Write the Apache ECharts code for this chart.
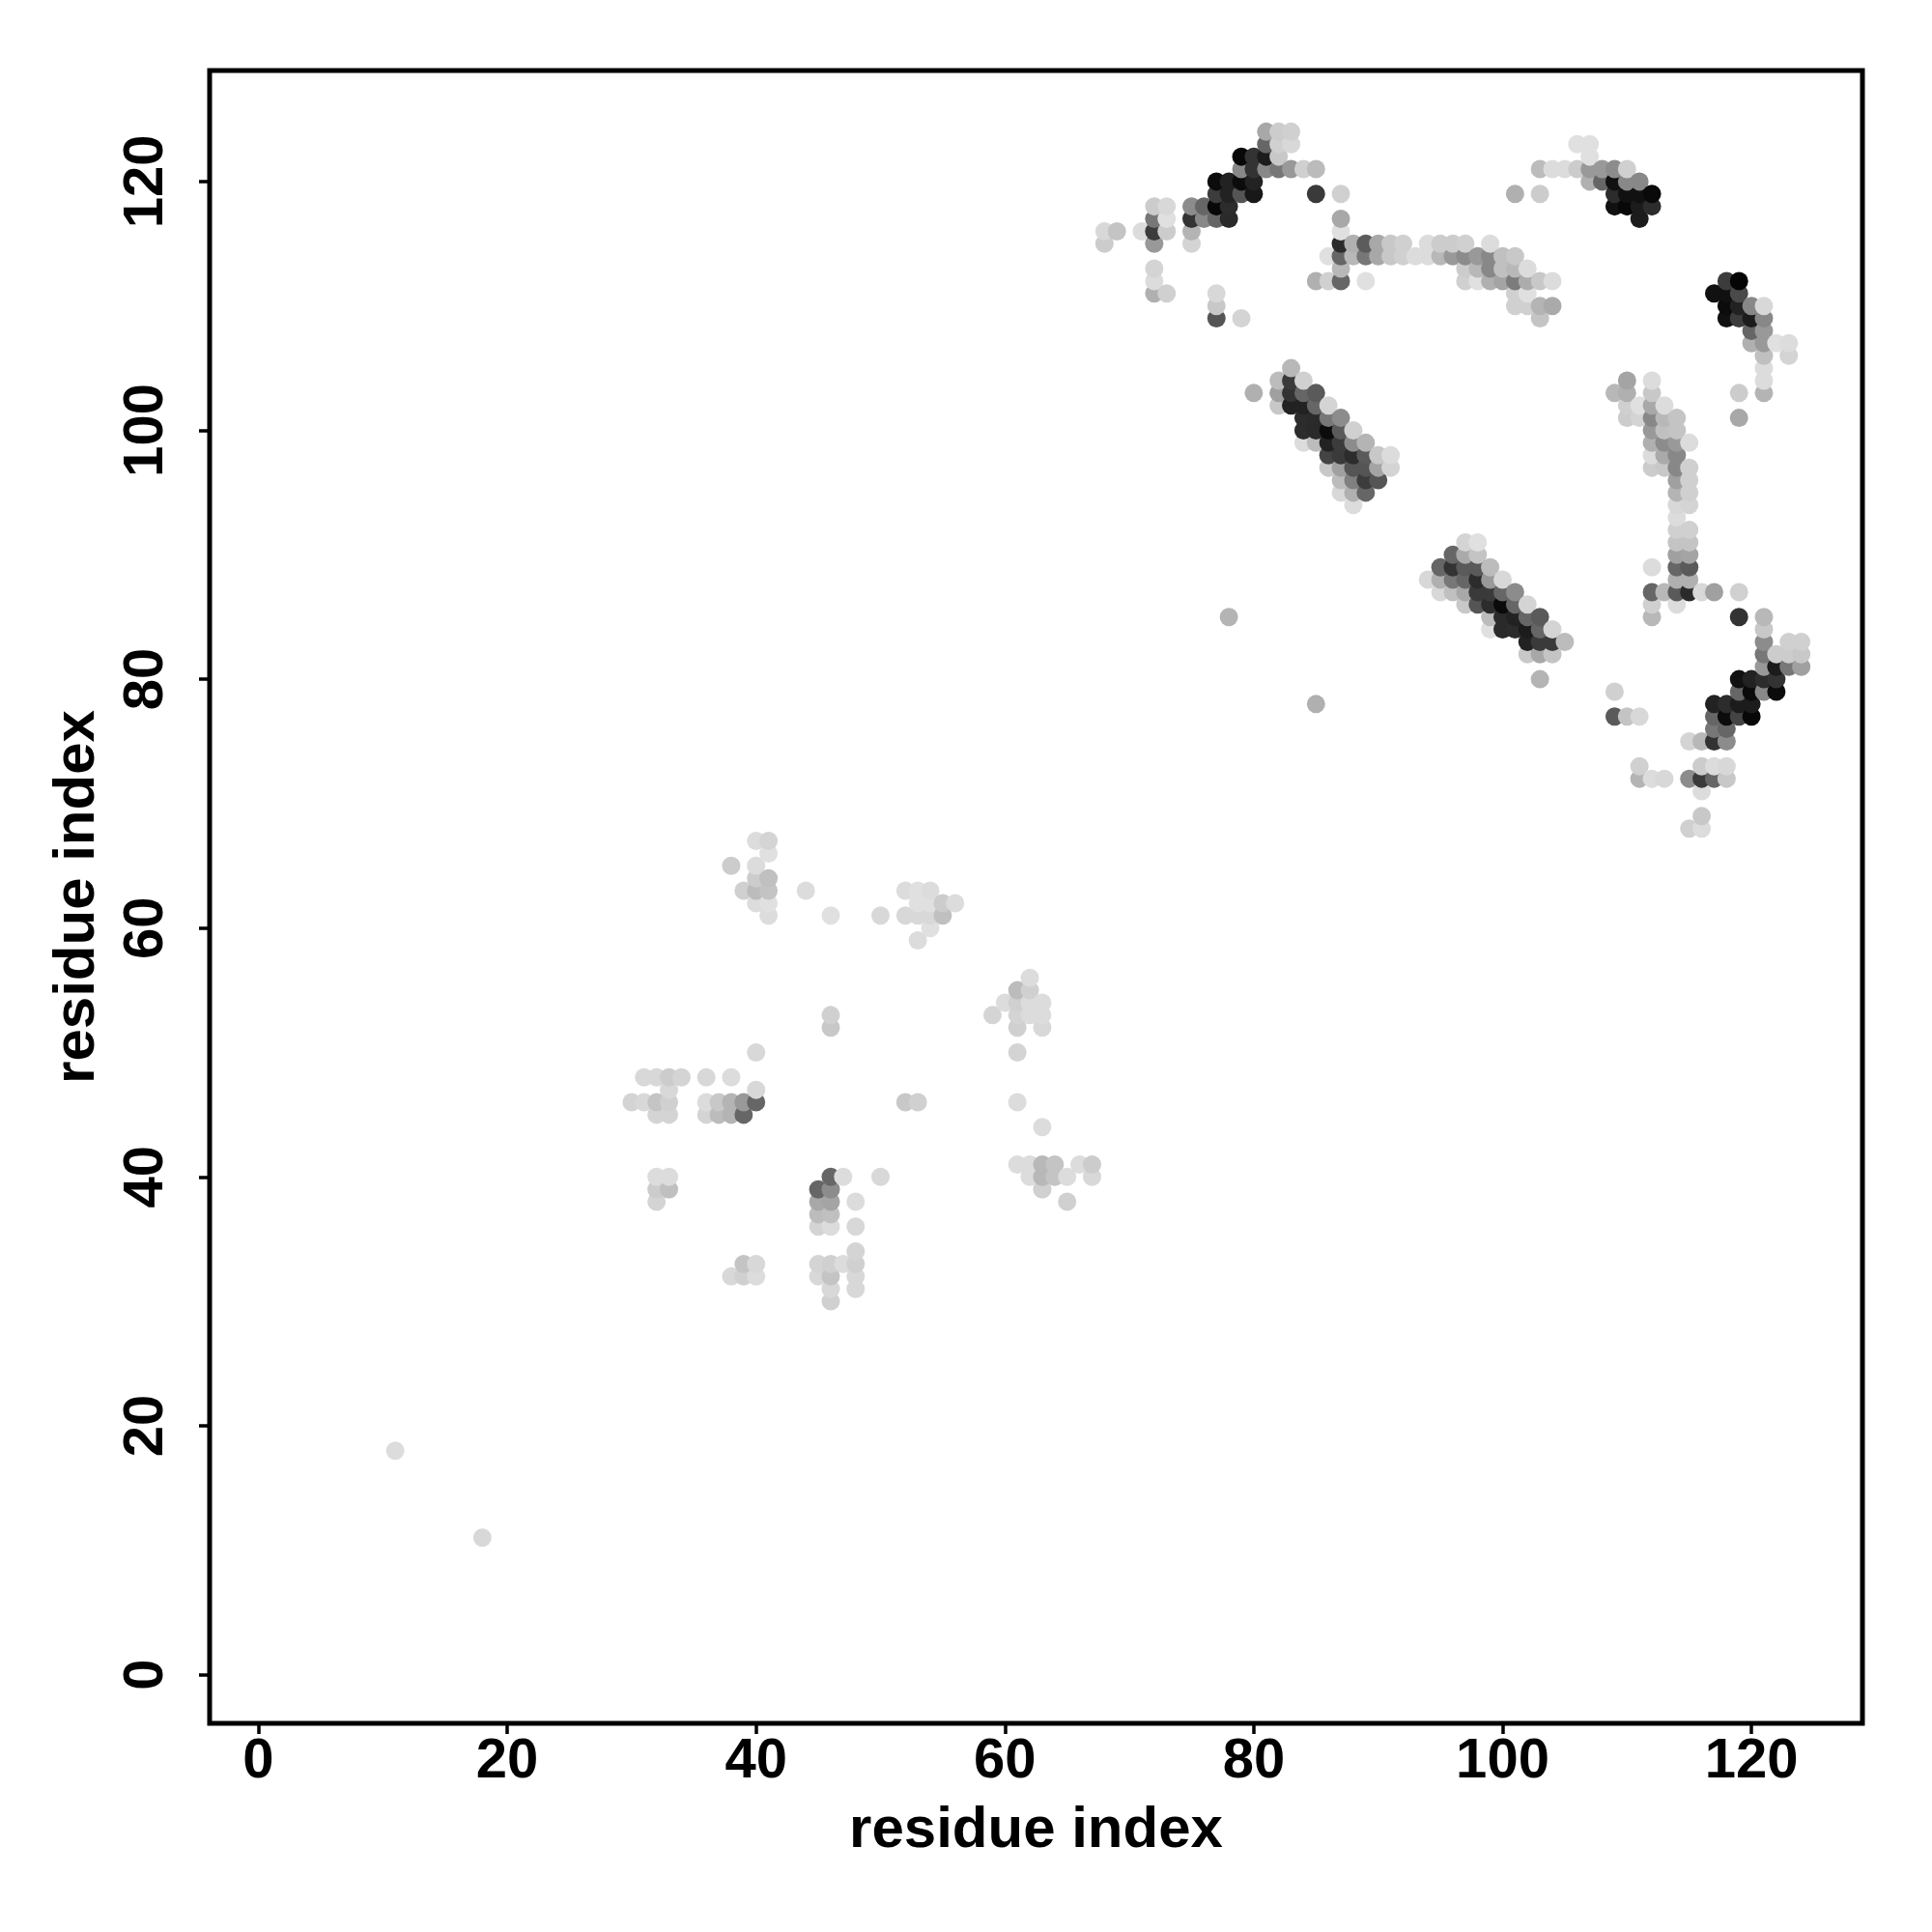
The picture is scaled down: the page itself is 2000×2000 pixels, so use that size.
<!DOCTYPE html>
<html><head><meta charset="utf-8">
<style>html,body{margin:0;padding:0;background:#fff}#c{width:2000px;height:2000px}</style>
<script src="https://cdn.jsdelivr.net/npm/echarts@6/dist/echarts.min.js"></script>
</head><body><div id="c"></div>
<script>
// each entry: [residue x, residue y, grey level of the dot]
const sparse = [[11,18,0xdc],[18,11,0xd8],[78,85,0xb4],[85,78,0xb0],[52,46,0xc8],[53,46,0xd0],[46,53,0xd0],[46,52,0xc8],[109,79,0xd0]];
const topLeft = [
[68,116,0xd8],[68,115,0xcc],[69,116,0xc4],[71,116,0xdc],
[72,118,0xcc],[72,117,0x77],[72,116,0x3c],[72,115,0x99],[72,113,0xd4],[72,112,0xdc],[72,111,0xb0],
[73,118,0xd8],[73,117,0xe0],[73,116,0xcc],[73,111,0xd0],
[75,118,0x8c],[75,117,0x33],[75,116,0xb4],[75,115,0xd4],[76,118,0x66],[76,117,0x88],
[77,120,0x0c],[77,119,0x3c],[77,118,0x08],[77,117,0x66],[77,111,0xd8],[77,110,0xc8],[77,109,0x55],
[78,120,0x22],[78,119,0x22],[78,118,0x2c],[78,117,0x2a],
[79,122,0x08],[79,121,0x88],[79,120,0x0c],[79,119,0x55],[79,109,0xd4],
[80,122,0x33],[80,121,0x33],[80,120,0x22],[80,119,0x18],
[81,124,0xa8],[81,123,0x66],[81,122,0x1c],[81,121,0x88],
[82,124,0xcc],[82,123,0xd0],[82,122,0xc8],[82,121,0x77],
[83,124,0xd0],[83,123,0xd8],[83,121,0x99],[84,121,0xd0],[85,121,0xbb],[85,119,0x3a],[85,112,0xb0],[86,112,0xd0]
];
const topMiddle = [
[87,119,0xd0],[87,117,0xa8],[87,116,0xe0],[87,115,0x2c],[87,114,0x66],[87,113,0xb8],[87,112,0x66],[86,114,0xe0],
[88,115,0xb0],[88,114,0xb8],[89,115,0x5c],[89,114,0x77],[89,112,0xe0],[90,115,0xa8],[90,114,0xa8],
[91,115,0xc8],[91,114,0xc8],[92,115,0xd0],[92,114,0xd0],[93,114,0xdc],[94,115,0xdc],[94,114,0xdc],
[95,115,0xcc],[95,114,0xb8],[96,115,0xcc],[96,114,0x99],[97,115,0xd0],[97,114,0x8c],[97,113,0xcc],[97,112,0xd0],
[98,114,0x99],[98,113,0xb8],[98,112,0xe0],[99,115,0xdc],[99,114,0x88],[99,113,0x88],[99,112,0xb0],
[100,114,0xc0],[100,113,0xc0],[100,112,0xa4],[101,114,0xc8],[101,113,0xb8],[101,112,0x7c],[101,111,0xd0],[101,110,0xd0],[101,119,0xb0],
[102,113,0xdc],[102,112,0xac],[102,111,0xe0],[102,110,0xd0],[103,119,0xcc],[103,112,0xc8],[103,110,0xb4],[103,109,0xc4],
[104,112,0xdc],[104,110,0xaa]
];
const topRight = [
[103,121,0xbc],[104,121,0xdc],[105,121,0xdc],[106,123,0xe0],[106,121,0xcc],[107,123,0xe0],[107,122,0xe0],[107,121,0x99],[107,120,0xb0],
[108,121,0x99],[108,120,0x66],[109,121,0x8c],[109,120,0x11],[109,119,0x2c],[109,118,0x11],
[110,121,0xd0],[110,120,0x88],[110,119,0x11],[110,118,0x08],[111,120,0x88],[111,119,0x11],[111,118,0x1c],[111,117,0x1c],[112,119,0x0a],[112,118,0x2c]
];
const diagonalUpper = [
[83,105,0xb8],[82,104,0xbc],[83,104,0x3a],[84,104,0xd0],[80,103,0xb0],[82,103,0xa0],[83,103,0x33],[84,103,0x66],[85,103,0x5a],
[82,102,0xc8],[83,102,0x22],[84,102,0x22],[85,102,0x66],[86,102,0xd4],[84,101,0x2c],[85,101,0x2a],[86,101,0x77],[87,101,0x8c],
[84,100,0x2c],[85,100,0x2a],[86,100,0x0c],[87,100,0x5a],[88,100,0xd0],[84,99,0xdc],[85,99,0xbc],[86,99,0x22],[87,99,0x3c],[88,99,0x8c],[89,99,0xb4],
[86,98,0x44],[87,98,0x3a],[88,98,0x2c],[89,98,0x5a],[90,98,0xc8],[91,98,0xdc],[86,97,0xc8],[87,97,0xa0],[88,97,0x55],[89,97,0x55],[90,97,0xa4],[91,97,0xd4],
[87,96,0xbc],[88,96,0x80],[89,96,0x3c],[90,96,0x55],[87,95,0xd8],[88,95,0xb0],[89,95,0x66],[88,94,0xdc]
];
const diagonalLower = [
[97,91,0xd4],[98,91,0xe0],[96,90,0x66],[97,90,0xaa],[98,90,0xc4],[95,89,0x66],[96,89,0x33],[97,89,0x5a],[98,89,0x5a],[99,89,0xbc],
[94,88,0xd8],[95,88,0xb0],[96,88,0x77],[97,88,0x66],[98,88,0x2c],[99,88,0x99],[100,88,0xd8],
[95,87,0xd8],[96,87,0xc0],[97,87,0xa8],[98,87,0x3a],[99,87,0x3a],[100,87,0x66],[101,87,0x8c],
[97,86,0xc8],[98,86,0x55],[99,86,0x2c],[100,86,0x0a],[101,86,0x66],[102,86,0xd4],
[99,85,0xbc],[100,85,0x2a],[101,85,0x22],[102,85,0x66],[103,85,0x5a],[99,84,0xe0],[100,84,0x2a],[101,84,0x2c],[102,84,0x1c],[103,84,0x66],[104,84,0xd4],
[102,83,0x22],[103,83,0x3a],[104,83,0x3a],[105,83,0xbc],[102,82,0xc8],[103,82,0xa8],[104,82,0xc4],[103,80,0xb4]
];
const rightUpper = [
[118,112,0x3c],[119,112,0x05],[117,111,0x11],[118,111,0x11],[119,111,0x4a],[118,110,0x0c],[119,110,0x22],[120,110,0x88],[121,110,0xd8],
[118,109,0x11],[119,109,0x3c],[120,109,0x1c],[121,109,0x88],[120,108,0x66],[121,108,0x99],[120,107,0xb0],[121,107,0x99],[122,107,0xe0],[123,107,0xdc],
[121,106,0xc0],[123,106,0xd4],[121,105,0xdc],[121,104,0xdc],[119,103,0xcc],[121,103,0xb4],[119,101,0xa8]
];
const rightColumn = [
[110,104,0xa4],[112,104,0xdc],[109,103,0xb8],[110,103,0xb0],[112,103,0xc8],[110,102,0xd0],[111,102,0xe0],[112,102,0xa8],[113,102,0xdc],
[110,101,0xcc],[111,101,0xd4],[112,101,0x88],[113,101,0xb8],[114,101,0xc4],[112,100,0x99],[113,100,0xc0],[114,100,0xc4],
[112,99,0xb0],[113,99,0x8c],[114,99,0x99],[115,99,0xdc],[112,98,0xdc],[113,98,0xaa],[114,98,0x88],[112,97,0xcc],[113,97,0xc8],[114,97,0x88],[115,97,0xd0],
[114,96,0xa0],[115,96,0xd0],[114,95,0xb4],[115,95,0xd0],[114,94,0xd8],[115,94,0xd4],[114,93,0xdc],[114,92,0xd0],[115,92,0xd0],[114,91,0xc4],[115,91,0xc4],
[114,90,0xa0],[115,90,0xa4],[112,89,0xdc],[114,89,0x66],[115,89,0x5a],[114,88,0xb0],[115,88,0xb0],
[112,87,0x66],[113,87,0xb8],[114,87,0x5a],[115,87,0x2a],[116,87,0xd8],[117,87,0xa0],[119,87,0xd0],[112,86,0xd0],[114,86,0xdc],[112,85,0xb8]
];
const rightLower = [
[119,85,0x33],[121,85,0xb8],[121,84,0xc8],[121,83,0x8c],[123,83,0xd0],[124,83,0xd0],[121,82,0x77],[122,82,0xcc],[123,82,0xcc],[124,82,0xc8],
[121,81,0x99],[122,81,0x1c],[123,81,0x77],[124,81,0xa0],[119,80,0x11],[120,80,0x22],[121,80,0x2c],[122,80,0x33],
[119,79,0x66],[120,79,0x0a],[121,79,0x88],[122,79,0x0c],[117,78,0x22],[118,78,0x2c],[119,78,0x1c],[120,78,0x1c],
[109,77,0x5a],[110,77,0xc4],[111,77,0xd8],[117,77,0x66],[118,77,0x0c],[119,77,0x44],[120,77,0x08],[117,76,0x77],[118,76,0x66],
[115,75,0xd4],[116,75,0xb8],[117,75,0x33],[118,75,0x8c],[111,73,0xd0],[116,73,0xcc],[117,73,0xdc],[118,73,0xd8],
[111,72,0xb4],[112,72,0xdc],[113,72,0xd8],[115,72,0x8c],[116,72,0x3a],[117,72,0x66],[118,72,0xc8],[116,71,0xdc],[116,69,0xc8],[115,68,0xd0],[116,68,0xdc]
];
const lowerLeft = [
[40,50,0xd8],[31,48,0xd8],[32,48,0xd8],[33,48,0xcc],[34,48,0xd4],[36,48,0xd8],[38,48,0xdc],[33,47,0xd8],[40,47,0xd8],
[30,46,0xd4],[31,46,0xd8],[32,46,0xc4],[33,46,0xd0],[36,46,0xdc],[37,46,0xc8],[38,46,0xb4],[39,46,0x99],[40,46,0x66],
[32,45,0xd4],[33,45,0xd4],[36,45,0xd4],[37,45,0xbc],[38,45,0xb4],[39,45,0x66],
[32,40,0xdc],[33,40,0xdc],[32,39,0xcc],[33,39,0xc0],[32,38,0xd4],
[38,32,0xd8],[39,33,0xc4],[39,32,0xd0],[40,33,0xd8],[40,32,0xdc]
];
const upperMiddle = [
[40,67,0xdc],[41,67,0xd4],[41,66,0xe0],[38,65,0xcc],[40,65,0xdc],[40,64,0xcc],[41,64,0xc0],[39,63,0xd0],[40,63,0xbc],[41,63,0xc4],[44,63,0xdc],
[52,63,0xdc],[53,63,0xe0],[54,63,0xdc],[40,62,0xdc],[41,62,0xe0],[53,62,0xe0],[54,62,0xe0],[55,62,0xcc],[56,62,0xdc],
[41,61,0xdc],[46,61,0xe0],[50,61,0xd8],[52,61,0xd8],[53,61,0xd8],[54,61,0xd8],[55,61,0xc0],[54,60,0xe0],[53,59,0xdc]
];
const centerRight = [
[62,56,0xdc],[61,55,0xbc],[62,55,0xd0],[60,54,0xdc],[61,54,0xd0],[62,54,0xdc],[63,54,0xdc],[59,53,0xd4],[61,53,0xd4],[62,53,0xdc],[63,53,0xdc],
[61,52,0xd0],[63,52,0xd8],[61,50,0xd4],[61,46,0xdc],[63,44,0xdc],
[61,41,0xdc],[62,41,0xdc],[63,41,0xb8],[64,41,0xc4],[66,41,0xdc],[67,41,0xcc],[62,40,0xdc],[63,40,0xb8],[64,40,0xc4],[65,40,0xdc],[67,40,0xd8],[63,39,0xd0],[65,38,0xd0]
];
const centerLow = [
[46,40,0x66],[47,40,0xdc],[50,40,0xd8],[45,39,0x66],[46,39,0x8c],[45,38,0xa8],[46,38,0xa4],[48,38,0xdc],[45,37,0xbc],[46,37,0xc0],[45,36,0xd4],[46,36,0xdc],[48,36,0xd8],
[48,34,0xd4],[45,33,0xd4],[46,33,0xd0],[47,33,0xdc],[48,33,0xd0],[45,32,0xd8],[46,32,0xc4],[48,32,0xd8],[46,31,0xd8],[48,31,0xd8],[46,30,0xd0]
];
const tickValues = [0,20,40,60,80,100,120];
const axisTitle = 'residue index';

const merged = new Map();
[sparse,topLeft,topMiddle,topRight,diagonalUpper,diagonalLower,rightUpper,rightColumn,rightLower,lowerLeft,upperMiddle,centerRight,centerLow]
  .forEach(list => list.forEach(p => merged.set(p[0]+'_'+p[1], p)));
const points = [...merged.values()].sort((a,b) => a[0]-b[0] || a[1]-b[1]);

const font = 'Liberation Sans';
function axis(isX){
  return {
    type:'value', min:-3.92, max:128.92,
    name:axisTitle, nameLocation:'middle', nameGap:isX?81:107,
    nameTextStyle:{fontFamily:font,fontWeight:'bold',fontSize:60,color:'#000'},
    splitLine:{show:false}, axisLine:{show:false,onZero:false},
    axisTick:{show:true,length:11,inside:false,lineStyle:{color:'#000',width:3.5},customValues:tickValues},
    axisLabel:{show:true,margin:isX?11:36,rotate:isX?0:90,fontFamily:font,fontWeight:'bold',fontSize:58,color:'#000',customValues:tickValues,
      hideOverlap:false,formatter:v=>String(v)}
  };
}
const chart = echarts.init(document.getElementById('c'),null,{renderer:'canvas'});
chart.setOption({
  animation:false, backgroundColor:'#fff',
  grid:{left:217,top:73,right:72,bottom:216,show:true,borderColor:'#000',borderWidth:5,backgroundColor:'transparent',containLabel:false},
  xAxis:axis(true), yAxis:axis(false),
  series:[{type:'scatter',symbol:'circle',symbolSize:19,data:points,large:false,silent:true,
    itemStyle:{opacity:1,color:p=>{const g=p.value[2];return 'rgb('+g+','+g+','+g+')';}}}]
});
</script></body></html>
